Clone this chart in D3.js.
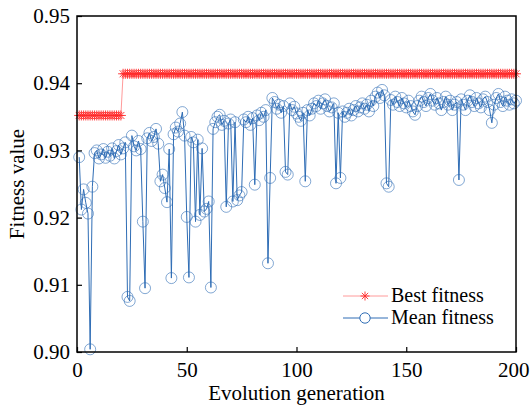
<!DOCTYPE html>
<html><head><meta charset="utf-8">
<script src="https://cdn.jsdelivr.net/npm/d3@7/dist/d3.min.js"></script>
<style>
html,body{margin:0;padding:0;background:#fff;}
svg{display:block;}
svg text{font-family:"Liberation Serif","Times New Roman","DejaVu Serif",serif !important;fill:#000;}
</style></head>
<body><svg id="c" width="530" height="407"></svg>
<script>
const generations = d3.range(1, 201);
const bestFitness = generations.map(g => g <= 20 ? 0.9352 : 0.9414);
const meanFitness = [
0.9290,0.9212,0.9242,0.9222,0.9206,0.9004,0.9246,0.9296,0.9300,0.9288,
0.9294,0.9302,0.9289,0.9298,0.9292,0.9303,0.9288,0.9299,0.9308,0.9294,
0.9303,0.9312,0.9082,0.9076,0.9322,0.9306,0.9300,0.9314,0.9302,0.9194,
0.9095,0.9318,0.9326,0.9314,0.9320,0.9332,0.9310,0.9254,0.9264,0.9244,
0.9223,0.9302,0.9110,0.9324,0.9334,0.9328,0.9340,0.9357,0.9322,0.9201,
0.9111,0.9320,0.9312,0.9194,0.9316,0.9204,0.9303,0.9209,0.9213,0.9224,
0.9096,0.9332,0.9342,0.9350,0.9353,0.9338,0.9344,0.9216,0.9340,0.9346,
0.9224,0.9342,0.9226,0.9233,0.9238,0.9346,0.9342,0.9350,0.9338,0.9348,
0.9249,0.9352,0.9345,0.9356,0.9350,0.9360,0.9132,0.9259,0.9378,0.9372,
0.9362,0.9368,0.9356,0.9366,0.9268,0.9264,0.9370,0.9360,0.9365,0.9355,
0.9350,0.9344,0.9356,0.9254,0.9360,0.9352,0.9362,0.9370,0.9366,0.9374,
0.9362,0.9370,0.9376,0.9366,0.9358,0.9364,0.9370,0.9251,0.9356,0.9259,
0.9358,0.9350,0.9356,0.9362,0.9352,0.9360,0.9366,0.9358,0.9364,0.9370,
0.9362,0.9368,0.9358,0.9374,0.9366,0.9380,0.9386,0.9378,0.9390,0.9382,
0.9251,0.9246,0.9375,0.9368,0.9380,0.9372,0.9366,0.9378,0.9370,0.9364,
0.9374,0.9366,0.9358,0.9353,0.9366,0.9374,0.9380,0.9372,0.9366,0.9378,
0.9384,0.9374,0.9368,0.9378,0.9370,0.9360,0.9372,0.9380,0.9368,0.9374,
0.9360,0.9368,0.9372,0.9256,0.9376,0.9368,0.9360,0.9374,0.9382,0.9372,
0.9366,0.9378,0.9370,0.9364,0.9376,0.9380,0.9372,0.9360,0.9341,0.9368,
0.9378,0.9384,0.9372,0.9366,0.9380,0.9374,0.9368,0.9376,0.9370,0.9374
];
const xTicks = [0, 50, 100, 150, 200];
const yTicks = [0.90, 0.91, 0.92, 0.93, 0.94, 0.95];
const seriesNames = ["Best fitness", "Mean fitness"];

const L = 77, R = 516, T = 16, B = 352;
const FONT = '"Liberation Serif","Times New Roman","DejaVu Serif",serif';
const svg = d3.select("#c");
const x = d3.scaleLinear().domain([0, 200]).range([L, R]);
const y = d3.scaleLinear().domain([0.90, 0.95]).range([B, T]);

const blue = "#2f6db5", red = "#ff2a2a", pink = "#ff9a9a";

// mean series
const line = d3.line().x((d,i)=>x(generations[i])).y(d=>y(d));
svg.append("path").datum(meanFitness).attr("d", line)
  .attr("fill","none").attr("stroke",blue).attr("stroke-width",1);
svg.append("g").selectAll("circle").data(meanFitness).join("circle")
  .attr("cx",(d,i)=>x(generations[i])).attr("cy",d=>y(d)).attr("r",5.5)
  .attr("fill","none").attr("stroke",blue).attr("stroke-width",0.8).attr("stroke-opacity",0.75);

// best series
const star = (s) => `M${-s},0L${s},0M0,${-s}L0,${s}M${-s*0.7},${-s*0.7}L${s*0.7},${s*0.7}M${-s*0.7},${s*0.7}L${s*0.7},${-s*0.7}`;
svg.append("path").datum(bestFitness).attr("d", line)
  .attr("fill","none").attr("stroke",pink).attr("stroke-width",1);
svg.append("g").selectAll("path").data(bestFitness).join("path")
  .attr("transform",(d,i)=>`translate(${x(generations[i])},${y(d)})`)
  .attr("d", star(5)).attr("stroke",red).attr("stroke-width",0.9).attr("fill","none");

// frame
svg.append("rect").attr("x",L).attr("y",T).attr("width",R-L).attr("height",B-T)
  .attr("fill","none").attr("stroke","#000").attr("stroke-width",1.5);

// axes
const xa = svg.append("g").attr("transform",`translate(0,${B})`)
  .call(d3.axisBottom(x).tickValues(xTicks).tickSizeInner(-5).tickSizeOuter(0).tickPadding(10).tickFormat(d3.format("d")));
const ya = svg.append("g").attr("transform",`translate(${L},0)`)
  .call(d3.axisLeft(y).tickValues(yTicks).tickSizeInner(-5).tickSizeOuter(0).tickPadding(7).tickFormat(d3.format(".2f")));
[xa, ya].forEach(a => {
  a.attr("font-family", FONT).attr("font-size", 21);
  a.select(".domain").remove();
  a.selectAll(".tick line").attr("stroke","#000").attr("stroke-width",1.2);
  a.selectAll("text").attr("fill","#000");
});
// keep the last x label inside the picture
xa.selectAll(".tick").filter(d => d === 200).select("text")
  .attr("text-anchor","end").attr("x", 529 - x(200));

svg.append("text").attr("x",(L+R)/2).attr("y",400).attr("text-anchor","middle")
  .attr("font-family",FONT).attr("font-size",21).text("Evolution generation");
svg.append("text").attr("transform",`translate(24,${(T+B)/2}) rotate(-90)`).attr("text-anchor","middle")
  .attr("font-family",FONT).attr("font-size",21).text("Fitness value");

// legend
const lg = svg.append("g");
const ly = [296, 318];
lg.append("line").attr("x1",343).attr("x2",388).attr("y1",ly[0]).attr("y2",ly[0]).attr("stroke",pink).attr("stroke-width",1);
lg.append("path").attr("transform",`translate(365,${ly[0]})`).attr("d",star(4.5)).attr("stroke",red).attr("stroke-width",0.9);
lg.append("line").attr("x1",343).attr("x2",388).attr("y1",ly[1]).attr("y2",ly[1]).attr("stroke",blue).attr("stroke-width",1);
lg.append("circle").attr("cx",365).attr("cy",ly[1]).attr("r",5.2).attr("fill","#fff").attr("stroke",blue).attr("stroke-width",1);
seriesNames.forEach((n,i)=>{
  lg.append("text").attr("x",391).attr("y",ly[i]+6).attr("font-family",FONT).attr("font-size",20).text(n);
});
</script></body></html>
